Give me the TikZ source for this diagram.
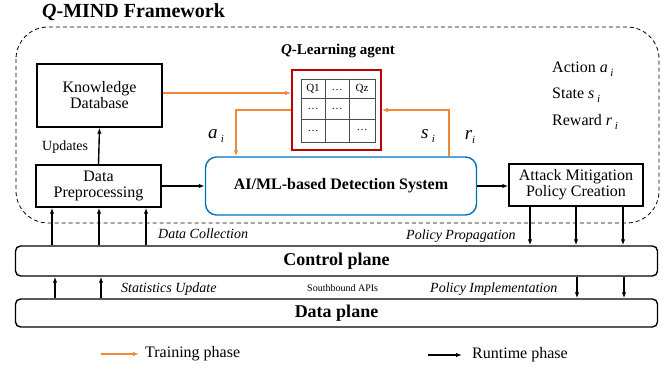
\documentclass[tikz,border=0pt]{standalone}
\usepackage{fontspec}
\setmainfont{Liberation Serif}
\usetikzlibrary{arrows.meta}

\definecolor{trainorange}{HTML}{F0883A}
\definecolor{qred}{HTML}{C00000}
\definecolor{aiblue}{HTML}{0070C0}

\newcommand{\fs}[1]{\fontsize{#1}{#1}\selectfont}
\newcommand{\subi}{\,\raisebox{-3.5pt}{\fs{11}\textit{i}}}

\tikzset{
  >={Latex[length=6pt,width=4.5pt]},
  box/.style={draw, line width=1.4pt, align=center, font=\fs{16}, inner sep=1pt},
  plane/.style={draw, line width=1.4pt, rounded corners=5pt, font=\bfseries\fs{18}},
  train/.style={->, draw=trainorange, line width=1.4pt},
  run/.style={->, line width=1.4pt},
  lab/.style={font=\itshape\fs{14}, inner sep=0pt, anchor=base west},
  cell/.style={font=\fs{11}, inner sep=0pt},
}

\begin{document}
\begin{tikzpicture}[x=1pt,y=-1pt]
  \useasboundingbox (0,0) rectangle (672,371);

  % framework
  \node[font=\bfseries\fs{20}, inner sep=0pt, anchor=base west] (title) at (42,18) {\textit{Q}-MIND Framework};
  \draw[dashed, line width=0.8pt, dash pattern=on 4pt off 3pt, rounded corners=32pt] (16,27) rectangle (659,223);

  % boxes
  \node[box, minimum width=125pt, minimum height=63pt] (kd) at (99.5,95.5) {Knowledge\\Database};
  \node[box, minimum width=125pt, minimum height=42pt] (dp) at (98.5,186) {Data\\Preprocessing};
  \node[box, draw=aiblue, rounded corners=11pt, minimum width=271pt, minimum height=58pt, font=\bfseries\fs{16}] (ai) at (341,186) {AI/ML-based Detection System};
  \node[box, minimum width=134pt, minimum height=42pt] (amp) at (576,185) {Attack Mitigation\\Policy Creation};

  % Q-learning agent
  \node[font=\bfseries\fs{15}, inner sep=0pt, anchor=base] (qlab) at (338,55) {\textit{Q}-Learning agent};
  \node[draw=qred, line width=1.6pt, minimum width=89pt, minimum height=80pt] (qbox) at (336.5,110) {};
  \draw[black!70, line width=0.9pt] (301,79) rectangle (375,142)
    (325,79) -- (325,142) (349,79) -- (349,142)
    (301,98) -- (375,98) (301,119) -- (375,119);
  \node[cell] (q11) at (313,89) {Q1};
  \node[cell] (q12) at (337,90) {\dots};
  \node[cell] (q13) at (362,89) {Qz};
  \node[cell] (q21) at (313,109) {\dots};
  \node[cell] (q22) at (337,109) {\dots};
  \node[cell] (q31) at (313,131) {\dots};
  \node[cell] (q33) at (362,130) {\dots};

  % training phase
  \draw[train] (kd.east |- 0,93) -- (qbox.west |- 0,93);
  \draw[train] (qbox.west |- 0,110) -| (ai.north -| 236,0);
  \draw[train] (ai.north -| 449,0) |- (qbox.east |- 0,110);
  \node[font=\fs{19}, inner sep=0pt, anchor=base] (ai-a) at (216,139) {\textit{a}\subi};
  \node[font=\fs{19}, inner sep=0pt, anchor=base] (ai-s) at (428,139) {\textit{s}\subi};
  \node[font=\fs{19}, inner sep=0pt, anchor=base] (ai-r) at (470,140) {\textit{r}\raisebox{-3.5pt}{\fs{11}\textit{i}}};

  \node[font=\fs{16}, inner sep=0pt, anchor=base west] (act) at (552,73) {Action \textit{a}\subi};
  \node[font=\fs{16}, inner sep=0pt, anchor=base west] (sta) at (552,99) {State \textit{s}\subi};
  \node[font=\fs{16}, inner sep=0pt, anchor=base west] (rew) at (552,126) {Reward \textit{r}\subi};

  % runtime phase
  \draw[run] (dp.north) -- (kd.south);
  \node[font=\fs{14}, inner sep=0pt, anchor=base west] (upd) at (42,151) {Updates};
  \draw[run] (dp.east |- 0,186) -- (ai.west |- 0,186);
  \draw[run] (ai.east |- 0,186) -- (amp.west |- 0,186);

  % planes
  \node[plane, minimum width=642pt, minimum height=30pt] (ctrl) at (336.5,261) {Control plane};
  \node[plane, minimum width=642pt, minimum height=28pt] (data) at (336.5,313) {Data plane};

  \foreach \x in {52,99,146} \draw[run] (ctrl.north -| \x,0) -- (dp.south -| \x,0);
  \foreach \x in {530,576,623} \draw[run] (amp.south -| \x,0) -- (ctrl.north -| \x,0);
  \foreach \x in {55,101} \draw[run] (data.north -| \x,0) -- (ctrl.south -| \x,0);
  \foreach \x in {577,624} \draw[run] (ctrl.south -| \x,0) -- (data.north -| \x,0);

  \node[lab] (dcol) at (158,239) {Data Collection};
  \node[lab] (ppro) at (406,240) {Policy Propagation};
  \node[lab] (supd) at (121,293) {Statistics Update};
  \node[lab] (pimp) at (430,293) {Policy Implementation};
  \node[font=\fs{10}, inner sep=0pt, anchor=base west] (sapi) at (307,292) {Southbound APIs};

  % legend
  \coordinate (trs) at (101,354);
  \node[font=\fs{16}, inner sep=0pt, anchor=west] (trn) at (145,354) {Training phase};
  \draw[train] (trs) -- (trn.west -| 139,0);
  \coordinate (rus) at (428,355);
  \node[font=\fs{16}, inner sep=0pt, anchor=west] (run) at (472,355) {Runtime phase};
  \draw[run] (rus) -- (run.west -| 462,0);
\end{tikzpicture}
\end{document}
